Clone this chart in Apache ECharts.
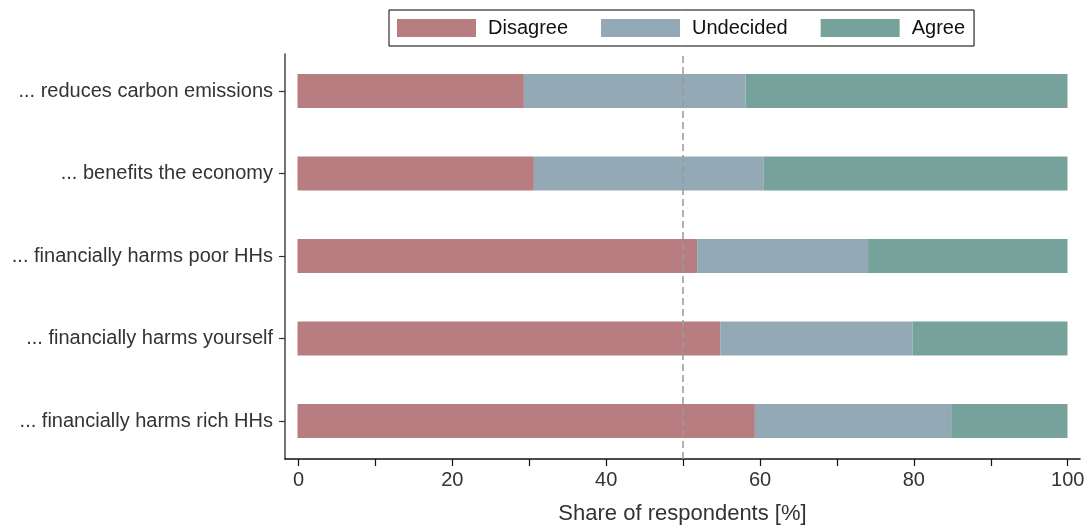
<!DOCTYPE html>
<html>
<head>
<meta charset="utf-8">
<script src="https://cdn.jsdelivr.net/npm/echarts@6/dist/echarts.min.js"></script>
<style>
  html, body { margin: 0; padding: 0; background: #fff; }
  #chart { width: 1092px; height: 526px; }
</style>
</head>
<body>
<div id="chart"></div>
<script>
// statements, top to bottom
const categories = [
  '... reduces carbon emissions',
  '... benefits the economy',
  '... financially harms poor HHs',
  '... financially harms yourself',
  '... financially harms rich HHs'
]
const disagree = [29.4, 30.7, 51.9, 54.9, 59.4]
const undecided = [28.8, 29.8, 22.2, 25.0, 25.5]
const agree = [41.8, 39.5, 25.9, 20.1, 15.1]
const majorTicks = [0, 20, 40, 60, 80, 100]
const minorTicks = [0, 10, 20, 30, 40, 50, 60, 70, 80, 90, 100]
const refValue = 50

const font = 'Liberation Sans, Arial, sans-serif'
const colors = ['#b87d80', '#93a9b6', '#77a29b']

const myChart = echarts.init(document.getElementById('chart'))

function barSeries(name, data) {
  return {
    name: name,
    type: 'bar',
    stack: 'share',
    xAxisIndex: 1,
    yAxisIndex: 1,
    barWidth: 34,
    data: data
  }
}

const option = {
  animation: false,
  color: colors,
  textStyle: { fontFamily: font },
  legend: {
    left: 389,
    top: 10,
    icon: 'rect',
    itemWidth: 79,
    itemHeight: 18,
    itemGap: 33,
    padding: [8, 9, 8, 8],
    borderColor: '#000',
    borderWidth: 1,
    textStyle: { fontSize: 20, color: '#111', fontFamily: font, padding: [0, 0, 0, 7] },
    data: ['Disagree', 'Undecided', 'Agree']
  },
  grid: [
    // frame: axis lines
    { left: 285, right: 12, top: 54, bottom: 67, outerBoundsMode: 'none', containLabel: false },
    // bars
    { left: 297.5, width: 770, top: 49.75, height: 412.5, outerBoundsMode: 'none', containLabel: false }
  ],
  xAxis: [
    {
      gridIndex: 0,
      type: 'value',
      min: -1.75,
      max: 101.6,
      axisLine: { show: true, onZero: false, lineStyle: { color: '#111', width: 1.5 } },
      axisTick: { show: true, customValues: minorTicks, length: 7, lineStyle: { color: '#111', width: 1.2 } },
      axisLabel: { customValues: majorTicks, fontSize: 20, color: '#333', margin: 11 },
      splitLine: { show: false },
      name: 'Share of respondents [%]',
      nameLocation: 'middle',
      nameGap: 44,
      nameTextStyle: { fontSize: 22, color: '#333' }
    },
    {
      gridIndex: 1,
      type: 'value',
      min: 0,
      max: 100,
      show: false
    }
  ],
  yAxis: [
    {
      gridIndex: 0,
      type: 'value',
      min: 0,
      max: 1,
      axisLine: { show: true, onZero: false, lineStyle: { color: '#444', width: 1.5 } },
      axisTick: { show: false },
      axisLabel: { show: false },
      splitLine: { show: false }
    },
    {
      gridIndex: 1,
      type: 'category',
      inverse: true,
      data: categories,
      offset: 12.5,
      axisLine: { show: false, onZero: false },
      axisTick: { show: true, alignWithLabel: true, length: 6, lineStyle: { color: '#333', width: 1.2 } },
      axisLabel: { fontSize: 20, color: '#333', margin: 12 }
    }
  ],
  series: [
    barSeries('Disagree', disagree),
    barSeries('Undecided', undecided),
    barSeries('Agree', agree),
    // dashed reference line at 50%
    {
      type: 'line',
      xAxisIndex: 0,
      yAxisIndex: 0,
      data: [],
      silent: true,
      markLine: {
        symbol: 'none',
        silent: true,
        label: { show: false },
        lineStyle: { color: '#999', type: [7, 4], width: 1.5 },
        data: [{ xAxis: refValue }]
      }
    }
  ]
}
myChart.setOption(option, true)
</script>
</body>
</html>
